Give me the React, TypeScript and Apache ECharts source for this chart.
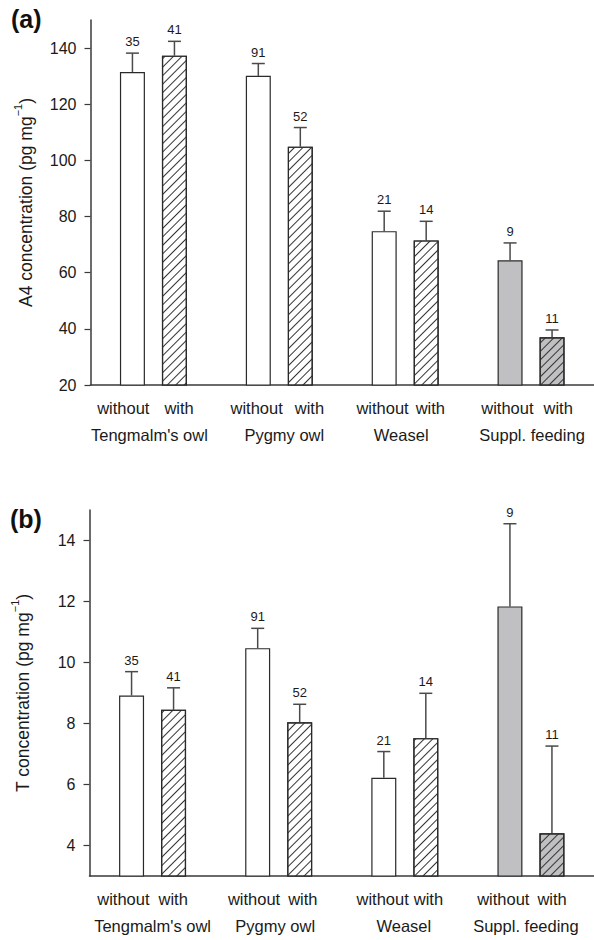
import React, { useEffect, useRef } from 'react';
import * as echarts from 'echarts';

// ---- data ----
const groups = ["Tengmalm's owl", 'Pygmy owl', 'Weasel', 'Suppl. feeding'];
const a4Without = [131.5, 130.1, 74.8, 64.4];
const a4WithoutUpper = [138.2, 134.5, 81.9, 70.6];
const a4With = [137.3, 104.9, 71.5, 37.0];
const a4WithUpper = [142.4, 111.7, 78.3, 39.6];
const tWithout = [8.92, 10.47, 6.22, 11.84];
const tWithoutUpper = [9.7, 11.12, 7.08, 14.55];
const tWith = [8.45, 8.04, 7.52, 4.4];
const tWithUpper = [9.17, 8.63, 8.99, 7.26];
const nWithout = [35, 91, 21, 9];
const nWith = [41, 52, 14, 11];
const a4Ticks = [20, 40, 60, 80, 100, 120, 140];
const tTicks = [4, 6, 8, 10, 12, 14];
const subLabels = ['without', 'with'];

// ---- style / layout ----
const FONT = '"Liberation Sans", Arial, Helvetica, sans-serif';
const TXT = '#1a1a1a';
const AXIS = '#3a3a3a';
const EDGE = '#2a2a2a';
const ERR = '#4a4a4a';
const GREY = '#c0c0c2';
const BAR_W = 25;
const BAR_GAP = 17;
const OFF = (BAR_W + BAR_GAP) / 2;

const labelLayout = {
  top: { gap: [15, 12, 7, 10], s1: [-8, -2, -4.5, -4], s2: [-4, 5, -4, 1] },
  bottom: { gap: [9, 8, 5, 8], s1: [-10, -6, -5, -9], s2: [0, -3.5, -1, -5] },
};

function makeRich(lay: { gap: number[]; s1: number[]; s2: number[] }) {
  const rich: any = {
    w: { fontSize: 16.5, fontFamily: FONT, color: TXT, lineHeight: 27 },
    n: { fontSize: 16.5, fontFamily: FONT, color: TXT, lineHeight: 27 },
  };
  for (let i = 0; i < 4; i++) {
    rich['g' + i] = { width: lay.gap[i], lineHeight: 27, fontSize: 10 };
    rich['a' + i] = { width: Math.max(0.01, 2 * lay.s1[i]), lineHeight: 27, fontSize: 10 };
    rich['b' + i] = { width: Math.max(0.01, -2 * lay.s1[i]), lineHeight: 27, fontSize: 10 };
    rich['c' + i] = { width: Math.max(0.01, 2 * lay.s2[i]), lineHeight: 27, fontSize: 10 };
    rich['d' + i] = { width: Math.max(0.01, -2 * lay.s2[i]), lineHeight: 27, fontSize: 10 };
  }
  return rich;
}

function xAxisFor(gridIndex: number, lay: any) {
  return {
    type: 'category',
    gridIndex,
    data: groups,
    axisLine: { lineStyle: { color: AXIS, width: 1.5 } },
    axisTick: { show: false },
    axisLabel: {
      interval: 0,
      margin: 9.5,
      formatter: (name: string, i: number) =>
        `{a${i}| }{w|${subLabels[0]}}{g${i}| }{w|${subLabels[1]}}{b${i}| }\n{c${i}| }{n|${name}}{d${i}| }`,
      rich: makeRich(lay),
    },
  };
}

function yAxisFor(gridIndex: number, min: number, max: number, ticks: number[], name: string, nameGap: number) {
  return {
    type: 'value',
    gridIndex,
    min,
    max,
    splitLine: { show: false },
    axisLine: { show: true, lineStyle: { color: AXIS, width: 1.5 } },
    axisTick: { show: true, length: 6, customValues: ticks, lineStyle: { color: AXIS, width: 1.2 } },
    axisLabel: {
      customValues: ticks,
      margin: 14,
      fontSize: 16,
      fontFamily: FONT,
      color: TXT,
    },
    name,
    nameLocation: 'middle',
    nameRotate: 90,
    nameGap,
    nameTextStyle: {
      fontSize: 17.5,
      fontFamily: FONT,
      color: TXT,
      lineHeight: 26,
      rich: {
        sup: { fontSize: 11, fontFamily: FONT, color: TXT, verticalAlign: 'top', lineHeight: 12 },
      },
    },
  };
}

const hatch = {
  symbol: 'rect',
  symbolSize: 1,
  dashArrayX: [1, 0],
  dashArrayY: [1, 5],
  rotation: -Math.PI / 4,
  color: '#333333',
};

function barSeries(idx: number, values: number[], hatched: boolean) {
  return {
    type: 'bar',
    xAxisIndex: idx,
    yAxisIndex: idx,
    barWidth: BAR_W,
    barGap: (BAR_GAP / BAR_W) * 100 + '%',
    data: values.map((v, i) => ({
      value: v,
      itemStyle: { color: i === 3 ? GREY : '#ffffff' },
    })),
    itemStyle: {
      borderColor: EDGE,
      borderWidth: 1.2,
      ...(hatched ? { decal: hatch } : {}),
    },
  };
}

function errSeries(idx: number, values: number[], upper: number[], ns: number[], side: number) {
  return {
    type: 'custom',
    xAxisIndex: idx,
    yAxisIndex: idx,
    encode: { x: 0, y: 1 },
    itemStyle: { color: TXT },
    data: values.map((v, i) => [i, v, upper[i], ns[i]]),
    renderItem: (params: any, api: any) => {
      const base = api.coord([api.value(0), api.value(1)]);
      const top = api.coord([api.value(0), api.value(2)]);
      const x = base[0] + side * OFF;
      return {
        type: 'group',
        children: [
          { type: 'line', shape: { x1: x, y1: base[1], x2: x, y2: top[1] }, style: { stroke: ERR, lineWidth: 1.5 } },
          { type: 'line', shape: { x1: x - 6.5, y1: top[1], x2: x + 6.5, y2: top[1] }, style: { stroke: ERR, lineWidth: 1.5 } },
          {
            type: 'text',
            x,
            y: top[1] - 5,
            style: {
              text: String(api.value(3)),
              align: 'center',
              verticalAlign: 'bottom',
              fontSize: 13,
              fontFamily: FONT,
              fill: TXT,
              stroke: 'none',
              lineWidth: 0,
            },
          },
        ],
      };
    },
  };
}

export default function App() {
  const ref = useRef<HTMLDivElement>(null);
  useEffect(() => {
    if (!ref.current) return;
    const chart = echarts.init(ref.current, undefined, { renderer: 'svg' });
    chart.setOption({
      animation: false,
      backgroundColor: '#ffffff',
      grid: [
        { left: 90.5, top: 20, width: 508, height: 365 },
        { left: 89.5, top: 510, width: 508, height: 366 },
      ],
      xAxis: [xAxisFor(0, labelLayout.top), xAxisFor(1, labelLayout.bottom)],
      yAxis: [
        yAxisFor(0, 20, 150, a4Ticks, 'A4 concentration (pg mg{sup|−1})', 50),
        yAxisFor(1, 3, 15, tTicks, 'T concentration (pg mg{sup|−1})', 54),
      ],
      series: [
        barSeries(0, a4Without, false),
        barSeries(0, a4With, true),
        errSeries(0, a4Without, a4WithoutUpper, nWithout, -1),
        errSeries(0, a4With, a4WithUpper, nWith, 1),
        barSeries(1, tWithout, false),
        barSeries(1, tWith, true),
        errSeries(1, tWithout, tWithoutUpper, nWithout, -1),
        errSeries(1, tWith, tWithUpper, nWith, 1),
      ],
      graphic: [
        { type: 'text', left: 11, top: 6, style: { text: '(a)', fontSize: 25, fontWeight: 'bold', fontFamily: FONT, fill: '#111' } },
        { type: 'text', left: 10, top: 506, style: { text: '(b)', fontSize: 25, fontWeight: 'bold', fontFamily: FONT, fill: '#111' } },
      ],
    });
    return () => chart.dispose();
  }, []);
  return <div ref={ref} style={{ position: 'absolute', left: 0, top: 0, width: 594, height: 940 }} />;
}
